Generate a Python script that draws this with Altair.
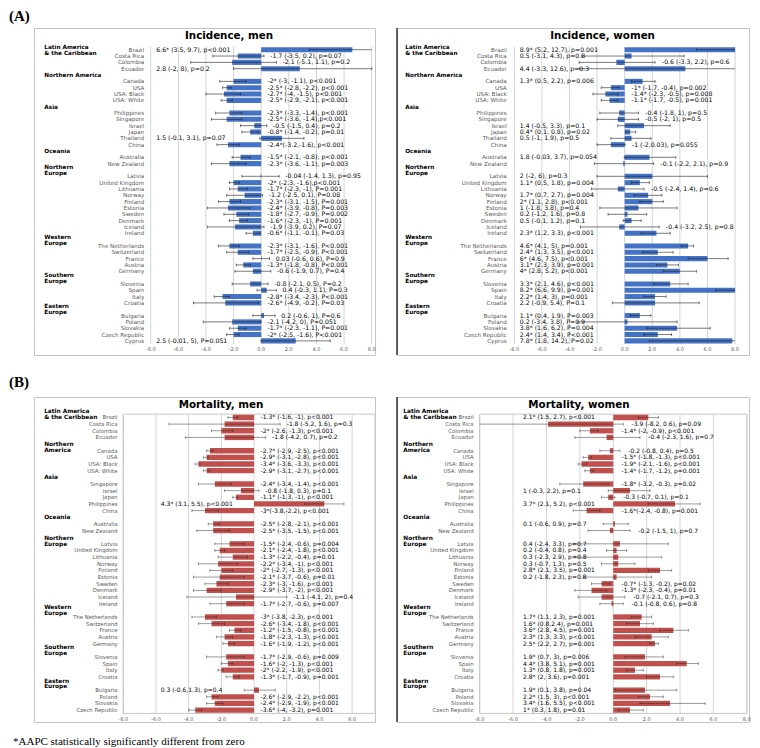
import altair as alt
import numpy as np
import pandas as pd

# ---------------- data ----------------
INC_COUNTRIES = ["Brazil", "Costa Rica", "Colombia", "Ecuador",
                 "Canada", "USA", "USA: Black", "USA: White",
                 "Philippines", "Singapore", "Israel", "Japan", "Thailand", "China",
                 "Australia", "New Zealand",
                 "Latvia", "United Kingdom", "Lithuania", "Norway", "Finland", "Estonia",
                 "Sweden", "Denmark", "Iceland", "Ireland",
                 "The Netherlands", "Switzerland", "France", "Austria", "Germany",
                 "Slovenia", "Spain", "Italy", "Croatia",
                 "Bulgaria", "Poland", "Slovakia", "Czech Republic", "Cyprus"]
INC_GROUPS = (["Latin America & the Caribbean"] * 4 + ["Northern America"] * 4 + ["Asia"] * 6
              + ["Oceania"] * 2 + ["Northern Europe"] * 10 + ["Western Europe"] * 5
              + ["Southern Europe"] * 4 + ["Eastern Europe"] * 5)

INC_MEN_AAPC = [6.6, -1.7, -2.1, 2.8, -2, -2.5, -2.7, -2.5, -2.3, -2.5, -0.5, -0.8, 1.5, -2.4,
                -1.5, -2.3, -0.04, -2, -1.7, -1.2, -2.3, -2.4, -1.8, -1.6, -1.9, -0.6,
                -2.3, -1.7, 0.03, -1.3, -0.6, -0.8, 0.4, -2.8, -2.6, 0.2, -2.1, -1.7, -2, 2.5]
INC_MEN_LO = [3.5, -3.5, -5.1, -2, -3, -2.8, -4, -2.9, -3.3, -3.6, -1.5, -1.4, -0.1, -3.2,
              -2.1, -3.6, -1.4, -2.3, -2.3, -2.5, -3.1, -3.9, -2.7, -2.3, -3.9, -1.1,
              -3.1, -2.5, -0.6, -1.8, -1.9, -2.1, -0.3, -3.4, -4.9, -0.6, -4.2, -2.3, -2.5, -0.01]
INC_MEN_HI = [9.7, 0.2, 1.1, 8, -1.1, -2.2, -1.5, -2.1, -1.4, -1.4, 0.4, -0.2, 3.1, -1.6,
              -0.8, -1.1, 1.3, -1.6, -1, 0.1, -1.5, -0.8, -0.9, -1, 0.2, -0.1,
              -1.6, -0.9, 0.6, -0.8, 0.7, 0.5, 1.1, -2.3, -0.2, 1, 0, -1.1, -1.6, 5]
INC_MEN_TEXT = ["6.6* (3.5, 9.7), p<0.001", "-1.7 (-3.5, 0.2), p=0.07", "-2.1 (-5.1, 1.1), p=0.2",
                "2.8 (-2, 8), p=0.2", "-2* (-3, -1.1), p<0.001", "-2.5* (-2.8, -2.2), p<0.001",
                "-2.7* (-4, -1.5), p<0.001", "-2.5* (-2.9, -2.1), p<0.001",
                "-2.3* (-3.3, -1.4), p<0.001", "-2.5* (-3.6, -1.4),p<0.001", "-0.5 (-1.5, 0.4), p=0.2",
                "-0.8* (-1.4, -0.2), p=0.01", "1.5 (-0.1, 3.1), p=0.07", "-2.4*(-3.2,-1.6), p<0.001",
                "-1.5* (-2.1, -0.8), p<0.001", "-2.3* (-3.6, -1.1), p=0.003",
                "-0.04 (-1.4, 1.3), p=0.95", "-2* (-2.3, -1.6),p<0.001", "-1.7* (-2.3, -1), P=0.001",
                "-1.2 (-2.5, 0.1), P=0.08", "-2.3* (-3.1, -1.5), P=0.001", "-2.4* (-3.9, -0.8), P=0.003",
                "-1.8* (-2.7, -0.9), P=0.002", "-1.6* (-2.3, -1), P=0.001", "-1.9 (-3.9, 0.2), P=0.07",
                "-0.6* (-1.1, -0.1), P=0.03",
                "-2.3* (-3.1, -1.6), P<0.001", "-1.7* (-2.5, -0.9), P<0.001", "0.03 (-0.6, 0.6), P=0.9",
                "-1.3* (-1.8, -0.8), P<0.001", "-0.6 (-1.9, 0.7), P=0.4",
                "-0.8 (-2.1, 0.5), P=0.2", "0.4 (-0.3, 1.1), P=0.3", "-2.8* (-3.4, -2.3), P<0.001",
                "-2.6* (-4.9, -0.2), P=0.03",
                "0.2 (-0.6, 1), P=0.6", "-2.1 (-4.2, 0), P=0.051", "-1.7* (-2.3, -1.1), P=0.001",
                "-2* (-2.5, -1.6), P<0.001", "2.5 (-0.01, 5), P=0.051"]

INC_WOMEN_AAPC = [8.9, 0.5, -0.6, 4.4, 1.3, -1, -1.4, -1.1, -0.4, -0.5, 1.4, 0.4, 0.5, -1,
                  1.8, -0.1, 2, 1.1, -0.5, 1.7, 2, 1, 0.2, 0.5, -0.4, 2.3,
                  4.6, 2.4, 6, 3.1, 4, 3.3, 8.2, 2.2, 2.2, 1.1, 0.2, 3.8, 2.4, 7.8]
INC_WOMEN_LO = [5.2, -3.1, -3.3, -3.3, 0.5, -1.7, -2.3, -1.7, -1.8, -2, -0.5, 0.1, -1, -2,
                -0.03, -2.2, -2, 0.5, -2.4, 0.7, 1.1, -1.8, -1.2, -0.1, -3.2, 1.2,
                4.1, 1.3, 4.6, 2.3, 2.8, 2.1, 6.6, 1.4, -0.9, 0.4, -3.4, 1.6, 1.4, 1.8]
INC_WOMEN_HI = [12.7, 4.3, 2.2, 12.6, 2.2, -0.4, -0.5, -0.5, 1, 1, 3.3, 0.8, 1.9, 0.03,
                3.7, 2.1, 6, 1.8, 1.4, 2.7, 2.8, 3.8, 1.6, 1.2, 2.5, 3.3,
                5, 3.5, 7.5, 3.9, 5.2, 4.6, 9.9, 3, 5.4, 1.9, 3.8, 6.2, 3.4, 14.2]
INC_WOMEN_TEXT = ["8.9* (5.2, 12.7), p=0.001", "0.5 (-3.1, 4.3), p=0.8", "-0.6 (-3.3, 2.2), p=0.6",
                  "4.4 (-3.3, 12.6), p=0.3", "1.3* (0.5, 2.2), p=0.006", "-1* (-1.7, -0.4), p=0.002",
                  "-1.4* (-2.3, -0.5), p=0.008", "-1.1* (-1.7, -0.5), p=0.001",
                  "-0.4 (-1.8, 1), p=0.5", "-0.5 (-2, 1), p=0.5", "1.4 (-0.5, 3.3), p=0.1",
                  "0.4* (0.1, 0.8), p=0.02", "0.5 (-1, 1.9), p=0.5", "-1 (-2,0.03), p=0.055",
                  "1.8 (-0.03, 3.7), p=0.054", "-0.1 (-2.2, 2.1), p=0.9",
                  "2 (-2, 6), p=0.3", "1.1* (0.5, 1.8), p=0.004", "-0.5 (-2.4, 1.4), p=0.6",
                  "1.7* (0.7, 2.7), p=0.004", "2* (1.1, 2.8), p<0.001", "1 (-1.8, 3.8), p=0.4",
                  "0.2 (-1.2, 1.6), p=0.8", "0.5 (-0.1, 1.2), p=0.1", "-0.4 (-3.2, 2.5), p=0.8",
                  "2.3* (1.2, 3.3), p<0.001",
                  "4.6* (4.1, 5), p=0.001", "2.4* (1.3, 3.5), p<0.001", "6* (4.6, 7.5), p<0.001",
                  "3.1* (2.3, 3.9), p=0.001", "4* (2.8, 5.2), p<0.001",
                  "3.3* (2.1, 4.6), p<0.001", "8.2* (6.6, 9.9), p=0.001", "2.2* (1.4, 3), p=0.001",
                  "2.2 (-0.9, 5.4), P=0.1",
                  "1.1* (0.4, 1.9), P=0.003", "0.2 (-3.4, 3.8), P=0.9", "3.8* (1.6, 6.2), P=0.004",
                  "2.4* (1.4, 3.4), P<0.001", "7.8* (1.8, 14.2), P=0.02"]

MORT_COUNTRIES = ["Brazil", "Costa Rica", "Colombia", "Ecuador",
                  "Canada", "USA", "USA: Black", "USA: White",
                  "Singapore", "Israel", "Japan", "Philippines", "China",
                  "Australia", "New Zealand",
                  "Latvia", "United Kingdom", "Lithuania", "Norway", "Finland", "Estonia",
                  "Sweden", "Denmark", "Iceland", "Ireland",
                  "The Netherlands", "Switzerland", "France", "Austria", "Germany",
                  "Slovenia", "Spain", "Italy", "Croatia",
                  "Bulgaria", "Poland", "Slovakia", "Czech Republic"]
MORT_GROUPS = (["Latin America & the Caribbean"] * 4 + ["Northern America"] * 4 + ["Asia"] * 5
               + ["Oceania"] * 2 + ["Northern Europe"] * 10 + ["Western Europe"] * 5
               + ["Southern Europe"] * 4 + ["Eastern Europe"] * 4)

MORT_MEN_AAPC = [-1.3, -1.8, -2, -1.8, -2.7, -2.9, -3.4, -2.9, -2.4, -0.8, -1.1, 4.3, -3,
                 -2.5, -2.5, -1.5, -2.1, -1.3, -2.2, -2, -2.1, -2.3, -2.9, -1.1, -1.7,
                 -3, -2.6, -1.2, -1.8, -1.6, -1.7, -1.6, -2, -1.3, 0.3, -2.6, -2.4, -3.6]
MORT_MEN_LO = [-1.6, -5.2, -2.6, -4.2, -2.9, -3.1, -3.6, -3.1, -3.4, -1.8, -1.3, 3.1, -3.8,
               -2.8, -3.5, -2.4, -2.4, -2.2, -3.4, -2.7, -3.7, -3, -3.7, -4.1, -2.7,
               -3.8, -3.4, -1.5, -2.3, -1.9, -2.9, -2, -2.2, -1.7, -0.6, -2.9, -2.9, -4]
MORT_MEN_HI = [-1, 1.6, -1.3, 0.7, -2.5, -2.8, -3.3, -2.7, -1.4, 0.3, -1, 5.5, -2.2,
               -2.1, -1.5, -0.6, -1.8, -0.4, -1, -1.3, -0.6, -1.6, -2, 2, -0.6,
               -2.3, -1.8, -0.8, -1.3, -1.2, -0.6, -1.3, -1.9, -0.9, 1.3, -2.2, -1.9, -3.2]
MORT_MEN_TEXT = ["-1.3* (-1.6, -1), p<0.001", "-1.8 (-5.2, 1.6), p=0.3", "-2* (-2.6, -1.3), p<0.001",
                 "-1.8 (-4.2, 0.7), p=0.2", "-2.7* (-2.9, -2.5), p<0.001", "-2.9* (-3.1, -2.8), p<0.001",
                 "-3.4* (-3.6, -3.3), p<0.001", "-2.9* (-3.1, -2.7), p<0.001",
                 "-2.4* (-3.4, -1.4), p<0.001", "-0.8 (-1.8, 0.3), p=0.1", "-1.1* (-1.3, -1), p<0.001",
                 "4.3* (3.1, 5.5), p<0.001", "-3*(-3.8,-2.2), p<0.001",
                 "-2.5* (-2.8, -2.1), p<0.001", "-2.5* (-3.5, -1.5), p<0.001",
                 "-1.5* (-2.4, -0.6), p=0.004", "-2.1* (-2.4, -1.8), p<0.001", "-1.3* (-2.2, -0.4), p=0.01",
                 "-2.2* (-3.4, -1), p<0.001", "-2* (-2.7, -1.3), p<0.001", "-2.1* (-3.7, -0.6), p=0.01",
                 "-2.3* (-3, -1.6), p<0.001", "-2.9* (-3.7, -2), p<0.001", "-1.1 (-4.1, 2), p=0.4",
                 "-1.7* (-2.7, -0.6), p=0.007",
                 "-3* (-3.8, -2.3), p<0.001", "-2.6* (-3.4, -1.8), p<0.001", "-1.2* (-1.5, -0.8), p<0.001",
                 "-1.8* (-2.3, -1.3), p<0.001", "-1.6* (-1.9, -1.2), p<0.001",
                 "-1.7* (-2.9, -0.6), p=0.009", "-1.6* (-2, -1.3), p<0.001", "-2* (-2.2, -1.9), p<0.001",
                 "-1.3* (-1.7, -0.9), p=0.001",
                 "0.3 (-0.6,1.3), p=0.4", "-2.6* (-2.9, -2.2), p<0.001", "-2.4* (-2.9, -1.9), p<0.001",
                 "-3.6* (-4, -3.2), p=0.001"]

MORT_WOMEN_AAPC = [2.1, -3.9, -1.4, -0.4, -0.2, -1.5, -1.9, -1.4, -1.8, 1, -0.3, 3.7, -1.6,
                   0.1, -0.2, 0.4, 0.2, 0.3, 0.3, 2.8, 0.2, -0.7, -1.3, -0.7, -0.1,
                   1.7, 1.6, 3.6, 2.3, 2.5, 1.9, 4.4, 1.3, 2.8, 1.9, 2.2, 3.4, 1]
MORT_WOMEN_LO = [1.5, -8.2, -2, -2.3, -0.8, -1.8, -2.1, -1.7, -3.2, -0.3, -0.7, 2.1, -2.4,
                 -0.6, -1.5, -2.4, -0.4, -2.3, -0.7, 2.1, -1.8, -1.3, -2.3, -2.1, -0.8,
                 1.1, 0.8, 2.8, 1.3, 2.2, 0.7, 3.8, 0.8, 2, 0.1, 1.5, 1.6, 0.3]
MORT_WOMEN_HI = [2.7, 0.6, -0.9, 1.6, 0.4, -1.3, -1.6, -1.2, -0.3, 2.2, 0.1, 5.2, -0.8,
                 0.9, 1, 3.3, 0.8, 2.9, 1.3, 3.5, 2.3, -0.2, -0.4, 0.7, 0.6,
                 2.3, 2.4, 4.5, 3.3, 2.7, 3, 5.1, 1.8, 3.6, 3.8, 3, 5.5, 1.8]
MORT_WOMEN_TEXT = ["2.1* (1.5, 2.7), p<0.001", "-3.9 (-8.2, 0.6), p=0.09", "-1.4* (-2, -0.9), p<0.001",
                   "-0.4 (-2.3, 1.6), p=0.7", "-0.2 (-0.8, 0.4), p=0.5", "-1.5* (-1.8, -1.3), p<0.001",
                   "-1.9* (-2.1, -1.6), p<0.001", "-1.4* (-1.7, -1.2), p=0.001",
                   "-1.8* (-3.2, -0.3), p=0.02", "1 (-0.3, 2.2), p=0.1", "-0.3 (-0.7, 0.1), p=0.1",
                   "3.7* (2.1, 5.2), p<0.001", "-1.6*(-2.4, -0.8), p=0.001",
                   "0.1 (-0.6, 0.9), p=0.7", "-0.2 (-1.5, 1), p=0.7",
                   "0.4 (-2.4, 3.3), p=0.7", "0.2 (-0.4, 0.8), p=0.4", "0.3 (-2.3, 2.9), p=0.8",
                   "0.3 (-0.7, 1.3), p=0.5", "2.8* (2.1, 3.5), p=0.001", "0.2 (-1.8, 2.3), p=0.8",
                   "-0.7* (-1.3, -0.2), p=0.02", "-1.3* (-2.3, -0.4), p=0.01", "-0.7 (-2.1, 0.7), p=0.3",
                   "-0.1 (-0.8, 0.6), p=0.8",
                   "1.7* (1.1, 2.3), p=0.001", "1.6* (0.8,2.4), p=0.001", "3.6* (2.8, 4.5), p=0.001",
                   "2.3* (1.3, 3.3), p<0.001", "2.5* (2.2, 2.7), p=0.001",
                   "1.9* (0.7, 3), p=0.006", "4.4* (3.8, 5.1), p=0.001", "1.3* (0.8, 1.8), p=0.001",
                   "2.8* (2, 3.6), p=0.001",
                   "1.9* (0.1, 3.8), p=0.04", "2.2* (1.5, 3), p<0.001", "3.4* (1.6, 5.5), p<0.001",
                   "1* (0.3, 1.8), p=0.01"]

HEADER_LINES_A = {"Latin America & the Caribbean": ["Latin America", "& the Caribbean"],
                  "Northern America": ["Northern America"], "Asia": ["Asia"], "Oceania": ["Oceania"],
                  "Northern Europe": ["Northern", "Europe"], "Western Europe": ["Western", "Europe"],
                  "Southern Europe": ["Southern", "Europe"], "Eastern Europe": ["Eastern", "Europe"]}
HEADER_LINES_B = dict(HEADER_LINES_A, **{"Northern America": ["Northern", "America"]})

TICKS = [-8, -6, -4, -2, 0, 2, 4, 6, 8]
TICK_LABELS = ["-8.0", "-6.0", "-4.0", "-2.0", "0.0", "2.0", "4.0", "6.0", "8.0"]
FOOTNOTE = "*AAPC statistically significantly different from zero"

BLUE = "#4472C4"
RED = "#C0504D"
FONT = "DejaVu Sans"


def layout_rows(groups):
    rows, hdr = [], []
    r, prev = 0, None
    for g in groups:
        if g != prev:
            hdr.append((g, r))
            if prev is not None:
                r += 1
            prev = g
        rows.append(r)
        r += 1
    return rows, hdr


def make_panel(title, countries, groups, vals, lo, hi, labels, header_lines, c):
    rows, hdr = layout_rows(groups)
    xs = alt.Scale(domain=list(c["xdom"]), nice=False, zero=False)
    ys = alt.Scale(domain=list(c["ydom"]), nice=False, zero=False, reverse=True)
    X = lambda f: alt.X(f, scale=xs, axis=None)
    Y = lambda f: alt.Y(f, scale=ys, axis=None)

    df = pd.DataFrame({"country": countries, "row": rows, "v": vals, "lo": lo, "hi": hi,
                       "label": labels})
    df["vc"] = df["v"].clip(-8, 8)
    df["loc"] = df["lo"].clip(-8, 8)
    df["hic"] = df["hi"].clip(-8, 8)
    df["zero"] = 0.0
    df["top"] = df["row"] - c["bh"]
    df["bot"] = df["row"] + c["bh"]
    left = df["v"] > c["thr"]
    df["lx"] = np.where(left, c["lstart"], df["hic"].clip(lower=0) + c["rgap"])
    df["cx"] = c["cx"]

    caps = pd.concat([df[["row", "lo"]].rename(columns={"lo": "x"}),
                      df[["row", "hi"]].rename(columns={"hi": "x"})])
    caps = caps[(caps["x"] >= -8) & (caps["x"] <= 8)].copy()
    caps["c0"] = caps["row"] - 0.22
    caps["c1"] = caps["row"] + 0.22

    hl = []
    for g, r in hdr:
        lines = header_lines[g]
        n = len(lines)
        anchor = r + (c["hshift"].get(g, 0.0) if n > 1 else 0.0)
        for i, t in enumerate(lines):
            hl.append({"t": t, "row": anchor + (i - (n - 1) / 2) * c["hstep"], "x": c["hx"]})
    hdf = pd.DataFrame(hl)

    xmax = c["xdom"][1]
    tk = pd.DataFrame({"t": TICKS, "lab": TICK_LABELS})
    tk = tk[tk["t"] <= xmax].copy()
    tk["g0"] = c["grid"][0]
    tk["g1"] = c["grid"][1]
    tk["tr"] = c["tick_row"]

    layers = []
    layers.append(alt.Chart(tk).mark_rule(color="#d4d4d4", strokeWidth=1).encode(
        x=X("t:Q"), y=Y("g0:Q"), y2="g1:Q"))
    if c["border"]:
        bd = pd.DataFrame({"x0": [-8], "x1": [min(8, xmax)], "y0": [c["grid"][0]], "y1": [c["grid"][1]]})
        layers.append(alt.Chart(bd).mark_rect(fill=None, stroke="#c8c8c8", strokeWidth=1).encode(
            x=X("x0:Q"), x2="x1:Q", y=Y("y0:Q"), y2="y1:Q"))
    layers.append(alt.Chart(df).mark_rect(color=c["color"]).encode(
        x=X("zero:Q"), x2="vc:Q", y=Y("top:Q"), y2="bot:Q"))
    layers.append(alt.Chart(df).mark_rule(color="#222222", opacity=c["eop"], strokeWidth=1).encode(
        x=X("loc:Q"), x2="hic:Q", y=Y("row:Q")))
    layers.append(alt.Chart(caps).mark_rule(color="#222222", opacity=c["eop"], strokeWidth=1).encode(
        x=X("x:Q"), y=Y("c0:Q"), y2="c1:Q"))
    layers.append(alt.Chart(df).mark_text(align="left", baseline="middle", font=FONT,
                                           fontSize=c["lsize"], color="#000000").encode(
        x=X("lx:Q"), y=Y("row:Q"), text="label:N"))
    layers.append(alt.Chart(df).mark_text(align="right", baseline="middle", font=FONT,
                                           fontSize=c["csize"], color="#595959").encode(
        x=X("cx:Q"), y=Y("row:Q"), text="country:N"))
    layers.append(alt.Chart(hdf).mark_text(align="left", baseline="middle", font=FONT,
                                            fontSize=c["hsize"], fontWeight="bold", color="#000000").encode(
        x=X("x:Q"), y=Y("row:Q"), text="t:N"))
    tdf = pd.DataFrame({"t": [title], "x": [c["tx"]], "row": [c["ty"]]})
    layers.append(alt.Chart(tdf).mark_text(align="center", baseline="middle", font=FONT,
                                            fontSize=10.3, fontWeight="bold", color="#000000").encode(
        x=X("x:Q"), y=Y("row:Q"), text="t:N"))
    layers.append(alt.Chart(tk).mark_text(align="center", baseline="middle", font=FONT,
                                           fontSize=5.0, color="#595959").encode(
        x=X("t:Q"), y=Y("tr:Q"), text="lab:N"))
    if c["darkleft"]:
        layers.append(alt.Chart(pd.DataFrame({"a": [0]})).mark_rule(color="#333333", strokeWidth=1.5).encode(
            x=alt.value(0), y=alt.value(0), y2=alt.value(c["h"])))
    for (txt, px, py, size, bold) in c.get("notes", []):
        layers.append(alt.Chart(pd.DataFrame({"t": [txt]})).mark_text(
            align="left", baseline="top", font="Liberation Serif", fontSize=size,
            fontWeight="bold" if bold else "normal", color="#000000").encode(
            x=alt.value(px), y=alt.value(py), text="t:N"))
    return alt.layer(*layers).properties(width=c["w"], height=c["h"])


SHIFT_B = {"Latin America & the Caribbean": -0.5, "Northern America": 0.5, "Northern Europe": 0.5}

CFG_A_MEN = dict(w=341, h=327, xdom=(-16.45, 8.24), ydom=(-3.43, 48.23), color=BLUE, bh=0.4,
                 thr=1.0, lstart=-7.6, rgap=0.45, cx=-8.47, hx=-15.7, tx=-2.33, ty=-2.12,
                 tick_row=47.23, grid=(-0.5, 46.5), lsize=6.2, csize=5.6, hsize=5.7, hstep=0.95,
                 hshift={}, eop=0.6, border=False, darkleft=False,
                 notes=[("(A)", -25, -19, 15, True)])
CFG_A_WOMEN = dict(w=352, h=327, xdom=(-16.5, 9.01), ydom=(-3.43, 48.23), color=BLUE, bh=0.4,
                   thr=0.0, lstart=-7.6, rgap=0.5, cx=-8.55, hx=-15.9, tx=-1.6, ty=-2.12,
                   tick_row=47.23, grid=(-0.5, 46.5), lsize=6.2, csize=5.6, hsize=5.7, hstep=0.95,
                   hshift={}, eop=0.6, border=False, darkleft=True)
CFG_B_MEN = dict(w=341, h=325, xdom=(-13.46, 7.40), ydom=(-3.08, 45.79), color=RED, bh=0.4,
                 thr=0.0, lstart=-5.7, rgap=0.4, cx=-8.35, hx=-12.84, tx=-2.02, ty=-1.95,
                 tick_row=45.3, grid=(-0.5, 44.5), lsize=6.0, csize=5.4, hsize=5.8, hstep=0.9,
                 hshift=SHIFT_B, eop=0.45, border=True, darkleft=False,
                 notes=[("(B)", -25, -22, 15, True), (FOOTNOTE, -21, 339, 11, False)])
CFG_B_WOMEN = dict(w=352, h=325, xdom=(-12.95, 8.13), ydom=(-3.08, 45.79), color=RED, bh=0.4,
                   thr=0.0, lstart=-5.4, rgap=0.5, cx=-8.36, hx=-12.57, tx=-2.05, ty=-1.95,
                   tick_row=45.3, grid=(-0.5, 44.5), lsize=6.0, csize=5.4, hsize=5.8, hstep=0.9,
                   hshift=SHIFT_B, eop=0.45, border=True, darkleft=True)

a_men = make_panel("Incidence, men", INC_COUNTRIES, INC_GROUPS, INC_MEN_AAPC, INC_MEN_LO, INC_MEN_HI,
                   INC_MEN_TEXT, HEADER_LINES_A, CFG_A_MEN)
a_women = make_panel("Incidence, women", INC_COUNTRIES, INC_GROUPS, INC_WOMEN_AAPC, INC_WOMEN_LO,
                     INC_WOMEN_HI, INC_WOMEN_TEXT, HEADER_LINES_A, CFG_A_WOMEN)
b_men = make_panel("Mortality, men", MORT_COUNTRIES, MORT_GROUPS, MORT_MEN_AAPC, MORT_MEN_LO, MORT_MEN_HI,
                   MORT_MEN_TEXT, HEADER_LINES_B, CFG_B_MEN)
b_women = make_panel("Mortality, women", MORT_COUNTRIES, MORT_GROUPS, MORT_WOMEN_AAPC, MORT_WOMEN_LO,
                     MORT_WOMEN_HI, MORT_WOMEN_TEXT, HEADER_LINES_B, CFG_B_WOMEN)

chart = alt.concat(a_men, a_women, b_men, b_women, columns=2,
                   spacing={"row": 42, "column": 22}, bounds="flush").properties(
    padding=0, background="white"
).configure_view(stroke="#c4c4c4", strokeWidth=1)

chart.save("out.html", embed_options={"renderer": "svg", "actions": False})
